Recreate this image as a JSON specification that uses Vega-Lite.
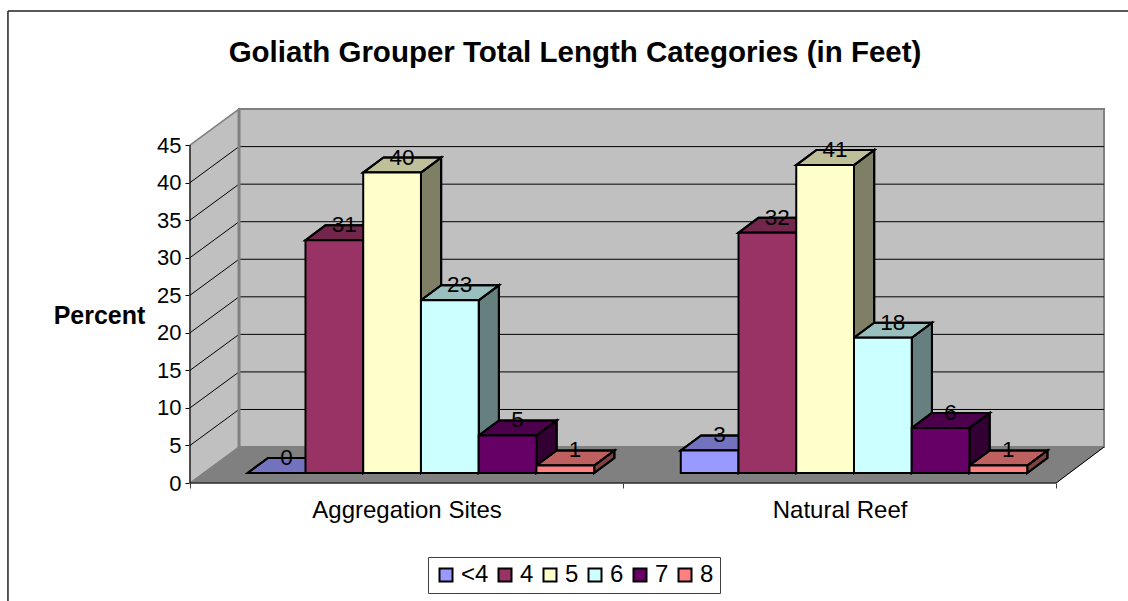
{
"$schema":"https://vega.github.io/schema/vega-lite/v6.json",
"width":914,"height":375,
"autosize":{"type":"none"},
"padding":{"left":190,"top":108,"right":24,"bottom":118},
"background":"white",
"title":{"text":"Goliath Grouper Total Length Categories (in Feet)","anchor":"middle","frame":"group","dx":-72,"offset":-81,"baseline":"alphabetic","fontSize":29.5,"fontWeight":"bold","font":"Liberation Sans","color":"black"},
"config":{"view":{"stroke":null},"font":"Liberation Sans"},
"datasets":{
"bars":[
{"site":"Aggregation Sites","cat":"<4","value":0},
{"site":"Aggregation Sites","cat":"4","value":31},
{"site":"Aggregation Sites","cat":"5","value":40},
{"site":"Aggregation Sites","cat":"6","value":23},
{"site":"Aggregation Sites","cat":"7","value":5},
{"site":"Aggregation Sites","cat":"8","value":1},
{"site":"Natural Reef","cat":"<4","value":3},
{"site":"Natural Reef","cat":"4","value":32},
{"site":"Natural Reef","cat":"5","value":41},
{"site":"Natural Reef","cat":"6","value":18},
{"site":"Natural Reef","cat":"7","value":6},
{"site":"Natural Reef","cat":"8","value":1}
],
"ticks":[{"tick":5},{"tick":10},{"tick":15},{"tick":20},{"tick":25},{"tick":30},{"tick":35},{"tick":40}]
},
"layer":[
{"data":{"values":[{"xs":0.849,"xe":15.83,"ys":4.79,"ye":49.79}]},
 "mark":{"type":"rect","fill":"#C0C0C0","stroke":"#808080","strokeWidth":2},
 "encoding":{
  "x":{"field":"xs","type":"quantitative","scale":{"domain":[0,15.83],"nice":false,"zero":false},
   "axis":{"title":null,"values":[0,3.75,7.5,11.25,15],"labelExpr":"datum.value==3.75?'Aggregation Sites':datum.value==11.25?'Natural Reef':''","tickOpacity":{"condition":{"test":"datum.value==3.75||datum.value==11.25","value":0},"value":1},"domain":false,"grid":false,"tickColor":"#404040","tickSize":5,"labelFontSize":24,"labelFont":"Liberation Sans","labelColor":"black","labelPadding":10,"labelLimit":400,"labelFlush":false,"labelOverlap":false,"labelAngle":0}},
  "x2":{"field":"xe"},
  "y":{"field":"ys","type":"quantitative","scale":{"domain":[0,49.93],"nice":false,"zero":false},
   "axis":{"title":"Percent","values":[0,5,10,15,20,25,30,35,40,45],"domain":false,"grid":false,"tickColor":"black","tickSize":5,"labelFontSize":22,"labelFont":"Liberation Sans","labelColor":"black","labelPadding":4,"titleFontSize":25,"titleFont":"Liberation Sans","titleFontWeight":"bold","titleColor":"black","titleAngle":0,"titleAlign":"center","titleBaseline":"middle","titleX":-91,"titleY":207}},
  "y2":{"field":"ye"}
 }},
{"data":{"values":[{"xw":0,"lo":0,"hi":45},{"xw":0.849,"lo":4.79,"hi":49.79}]},
 "mark":{"type":"area","orient":"vertical","fill":"#C0C0C0","stroke":"#808080","strokeWidth":1.5},
 "encoding":{
  "x":{"field":"xw","type":"quantitative","scale":{"domain":[0,15.83],"nice":false,"zero":false}},
  "y":{"field":"hi","type":"quantitative","scale":{"domain":[0,49.93],"nice":false,"zero":false}},
  "y2":{"field":"lo"}
 }},
{"data":{"values":[{"yf":0,"xa":0,"xb":15},{"yf":4.79,"xa":0.849,"xb":15.83}]},
 "mark":{"type":"area","orient":"horizontal","fill":"#808080","stroke":"#808080","strokeWidth":1},
 "encoding":{
  "y":{"field":"yf","type":"quantitative","scale":{"domain":[0,49.93],"nice":false,"zero":false}},
  "x":{"field":"xa","type":"quantitative","scale":{"domain":[0,15.83],"nice":false,"zero":false}},
  "x2":{"field":"xb"}
 }},
{"data":{"values":[{"ex":0,"ey":0},{"ex":15,"ey":0},{"ex":15.83,"ey":4.79}]},
 "mark":{"type":"line","color":"black","strokeWidth":1},
 "encoding":{
  "x":{"field":"ex","type":"quantitative","scale":{"domain":[0,15.83],"nice":false,"zero":false}},
  "y":{"field":"ey","type":"quantitative","scale":{"domain":[0,49.93],"nice":false,"zero":false}}
 }},
{"data":{"name":"ticks"},
 "transform":[
  {"calculate":"0","as":"a"},{"calculate":"0.849","as":"b"},{"calculate":"15.83","as":"c"},
  {"fold":["a","b","c"],"as":["k","gx"]},
  {"calculate":"datum.tick+(datum.k=='a'?0:4.79)","as":"gy"}
 ],
 "mark":{"type":"line","color":"black","strokeWidth":1},
 "encoding":{
  "x":{"field":"gx","type":"quantitative","scale":{"domain":[0,15.83],"nice":false,"zero":false}},
  "y":{"field":"gy","type":"quantitative","scale":{"domain":[0,49.93],"nice":false,"zero":false}},
  "detail":{"field":"tick"}
 }},
{"data":{"values":[{"rx":0.849,"ra":4.79,"rb":49.79}]},
 "mark":{"type":"rule","color":"#808080","strokeWidth":3},
 "encoding":{
  "x":{"field":"rx","type":"quantitative","scale":{"domain":[0,15.83],"nice":false,"zero":false}},
  "y":{"field":"ra","type":"quantitative","scale":{"domain":[0,49.93],"nice":false,"zero":false}},
  "y2":{"field":"rb"}
 }},
{"data":{"values":[{"rx":0,"ra":0,"rb":45}]},
 "mark":{"type":"rule","color":"black","strokeWidth":1},
 "encoding":{
  "x":{"field":"rx","type":"quantitative","scale":{"domain":[0,15.83],"nice":false,"zero":false}},
  "y":{"field":"ra","type":"quantitative","scale":{"domain":[0,49.93],"nice":false,"zero":false}},
  "y2":{"field":"rb"}
 }},
{"data":{"name":"bars"},
 "transform":[
  {"calculate":"1+7.5*(datum.site=='Natural Reef'?1:0)+indexof(['<4','4','5','6','7','8'],datum.cat)","as":"xl"},
  {"calculate":"datum.xl+1","as":"a"},{"calculate":"datum.xl+1.35","as":"b"},
  {"fold":["a","b"],"as":["k","sx"]},
  {"calculate":"1.33+(datum.k=='b'?2:0)","as":"y0"},
  {"calculate":"datum.y0+datum.value","as":"y1"},
  {"calculate":"datum.site+datum.cat","as":"id"}
 ],
 "mark":{"type":"area","orient":"vertical","stroke":"black","strokeWidth":2},
 "encoding":{
  "x":{"field":"sx","type":"quantitative","scale":{"domain":[0,15.83],"nice":false,"zero":false}},
  "y":{"field":"y1","type":"quantitative","scale":{"domain":[0,49.93],"nice":false,"zero":false}},
  "y2":{"field":"y0"},
  "fill":{"field":"cat","type":"nominal","scale":{"domain":["<4","4","5","6","7","8"],"range":["#9999FF","#993366","#FFFFCC","#CCFFFF","#660066","#FF8080"]},
   "legend":{"title":null,"orient":"none","direction":"horizontal","columns":6,"legendX":238,"legendY":449,"fillColor":"white","strokeColor":"#404040","padding":6,"symbolType":"square","symbolSize":169,"symbolStrokeColor":"black","symbolStrokeWidth":2,"symbolOpacity":1,"labelFontSize":24,"labelFont":"Liberation Sans","labelColor":"black","labelOffset":3,"columnPadding":4,"gridAlign":"none"}},
  "detail":{"field":"id"}
 }
},
{"data":{"name":"bars"},
 "transform":[
  {"calculate":"1+7.5*(datum.site=='Natural Reef'?1:0)+indexof(['<4','4','5','6','7','8'],datum.cat)","as":"xl"},
  {"calculate":"datum.xl+1","as":"a"},{"calculate":"datum.xl+1.35","as":"b"},
  {"fold":["a","b"],"as":["k","sx"]},
  {"calculate":"1.33+(datum.k=='b'?2:0)","as":"y0"},
  {"calculate":"datum.y0+datum.value","as":"y1"},
  {"calculate":"datum.site+datum.cat","as":"id"}
 ],
 "mark":{"type":"area","orient":"vertical","fill":"black","fillOpacity":0.5,"stroke":"black","strokeWidth":2},
 "encoding":{
  "x":{"field":"sx","type":"quantitative","scale":{"domain":[0,15.83],"nice":false,"zero":false}},
  "y":{"field":"y1","type":"quantitative","scale":{"domain":[0,49.93],"nice":false,"zero":false}},
  "y2":{"field":"y0"},
  "detail":{"field":"id"}
 }
},
{"data":{"name":"bars"},
 "transform":[
  {"calculate":"1+7.5*(datum.site=='Natural Reef'?1:0)+indexof(['<4','4','5','6','7','8'],datum.cat)","as":"xl"},
  {"calculate":"1.33+datum.value","as":"yf"},{"calculate":"3.33+datum.value","as":"yb"},
  {"fold":["yf","yb"],"as":["k","ty"]},
  {"calculate":"datum.xl+(datum.k=='yb'?0.35:0)","as":"xa"},
  {"calculate":"datum.xa+1","as":"xb"},
  {"calculate":"datum.site+datum.cat","as":"id"}
 ],
 "mark":{"type":"area","orient":"horizontal","stroke":"black","strokeWidth":2},
 "encoding":{
  "y":{"field":"ty","type":"quantitative","scale":{"domain":[0,49.93],"nice":false,"zero":false}},
  "x":{"field":"xa","type":"quantitative","scale":{"domain":[0,15.83],"nice":false,"zero":false}},
  "x2":{"field":"xb"},
  "fill":{"field":"cat","type":"nominal","scale":{"domain":["<4","4","5","6","7","8"],"range":["#9999FF","#993366","#FFFFCC","#CCFFFF","#660066","#FF8080"]}},
  "detail":{"field":"id"}
 }
},
{"data":{"name":"bars"},
 "transform":[
  {"calculate":"1+7.5*(datum.site=='Natural Reef'?1:0)+indexof(['<4','4','5','6','7','8'],datum.cat)","as":"xl"},
  {"calculate":"1.33+datum.value","as":"yf"},{"calculate":"3.33+datum.value","as":"yb"},
  {"fold":["yf","yb"],"as":["k","ty"]},
  {"calculate":"datum.xl+(datum.k=='yb'?0.35:0)","as":"xa"},
  {"calculate":"datum.xa+1","as":"xb"},
  {"calculate":"datum.site+datum.cat","as":"id"}
 ],
 "mark":{"type":"area","orient":"horizontal","fill":"black","fillOpacity":0.25,"stroke":"black","strokeWidth":2},
 "encoding":{
  "y":{"field":"ty","type":"quantitative","scale":{"domain":[0,49.93],"nice":false,"zero":false}},
  "x":{"field":"xa","type":"quantitative","scale":{"domain":[0,15.83],"nice":false,"zero":false}},
  "x2":{"field":"xb"},
  "detail":{"field":"id"}
 }
},
{"data":{"name":"bars"},
 "transform":[
  {"calculate":"1+7.5*(datum.site=='Natural Reef'?1:0)+indexof(['<4','4','5','6','7','8'],datum.cat)","as":"xl"},
  {"calculate":"datum.xl+1","as":"xr"},
  {"calculate":"1.33+datum.value","as":"yt"},
  {"calculate":"1.33","as":"yz"}
 ],
 "mark":{"type":"rect","stroke":"black","strokeWidth":2},
 "encoding":{
  "x":{"field":"xl","type":"quantitative","scale":{"domain":[0,15.83],"nice":false,"zero":false}},
  "x2":{"field":"xr"},
  "y":{"field":"yz","type":"quantitative","scale":{"domain":[0,49.93],"nice":false,"zero":false}},
  "y2":{"field":"yt"},
  "fill":{"field":"cat","type":"nominal","scale":{"domain":["<4","4","5","6","7","8"],"range":["#9999FF","#993366","#FFFFCC","#CCFFFF","#660066","#FF8080"]}}
 }},
{"data":{"name":"bars"},
 "transform":[
  {"calculate":"1+7.5*(datum.site=='Natural Reef'?1:0)+indexof(['<4','4','5','6','7','8'],datum.cat)+0.67","as":"tx"},
  {"calculate":"3.33+datum.value","as":"ty"}
 ],
 "mark":{"type":"text","fontSize":22.5,"font":"Liberation Sans","color":"black","align":"center","baseline":"middle"},
 "encoding":{
  "x":{"field":"tx","type":"quantitative","scale":{"domain":[0,15.83],"nice":false,"zero":false}},
  "y":{"field":"ty","type":"quantitative","scale":{"domain":[0,49.93],"nice":false,"zero":false}},
  "text":{"field":"value","type":"quantitative"}
 }},
{"data":{"values":[{"fx":-3.153,"fy":62.84,"fb":-15.7}]},
 "mark":{"type":"rule","color":"#202020","strokeWidth":1.5},
 "encoding":{
  "x":{"field":"fx","type":"quantitative","scale":{"domain":[0,15.83],"nice":false,"zero":false}},
  "y":{"field":"fy","type":"quantitative","scale":{"domain":[0,49.93],"nice":false,"zero":false}},
  "y2":{"field":"fb"}
 }},
{"data":{"values":[{"fx":-3.153,"fe":16.25,"fy":62.84}]},
 "mark":{"type":"rule","color":"#202020","strokeWidth":1.5},
 "encoding":{
  "x":{"field":"fx","type":"quantitative","scale":{"domain":[0,15.83],"nice":false,"zero":false}},
  "x2":{"field":"fe"},
  "y":{"field":"fy","type":"quantitative","scale":{"domain":[0,49.93],"nice":false,"zero":false}}
 }}
]
}
